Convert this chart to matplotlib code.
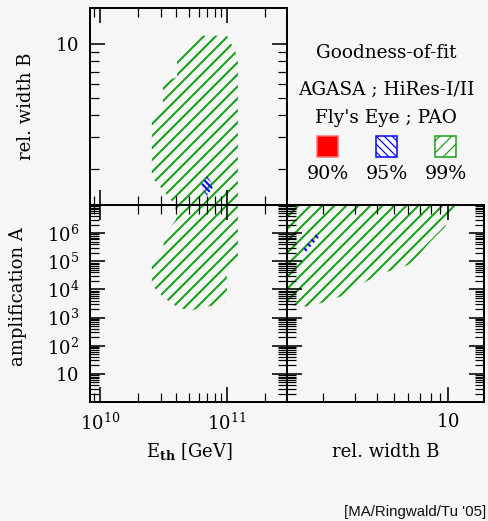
import matplotlib
matplotlib.use("Agg")
import matplotlib.pyplot as plt
from matplotlib.ticker import FixedLocator, FixedFormatter, NullFormatter, LogLocator
from matplotlib.patches import Rectangle

# ---------------- data ----------------
E_range = [8.34e9, 2.97e11]      # E_th [GeV]
B_range = [1.259, 15.85]         # relative width B
A_range = [1.0, 1.0e7]           # amplification A

E_major = [1e10, 1e11]
E_labels = ["$10^{10}$", "$10^{11}$"]
A_major = [1, 10, 1e2, 1e3, 1e4, 1e5, 1e6, 1e7]
A_labels = ["", "$10$", "$10^{2}$", "$10^{3}$", "$10^{4}$", "$10^{5}$", "$10^{6}$", ""]
B_major = [10]
B_labels = ["$10$"]

# 99% region, (E_th, B) projection
g99_EB_E = [3.89e10, 3.89e10, 3.13e10, 2.56e10, 2.56e10, 3.13e10, 3.13e10, 4.04e10,
            4.04e10, 4.93e10, 5.30e10, 6.24e10, 1.0e11, 1.22e11, 1.22e11]
g99_EB_B = [1.0, 1.26, 1.53, 1.80, 4.01, 4.45, 6.12, 6.53,
            8.13, 9.25, 10.1, 11.1, 11.1, 8.45, 1.0]
# 99% region, (E_th, A) projection
g99_EA_E = [3.89e10, 3.96e10, 3.19e10, 3.13e10, 2.56e10, 2.56e10, 2.71e10, 3.13e10,
            4.04e10, 5.1e10, 6.1e10, 7.6e10, 9.6e10, 1.0e11, 1.0e11, 1.06e11,
            1.22e11, 1.22e11]
g99_EA_A = [3e7, 3.0e6, 7.2e5, 1.7e5, 7.4e4, 1.7e4, 1.1e4, 5.4e3,
            2.4e3, 1.7e3, 2.2e3, 2.6e3, 3.5e3, 7.4e3, 3.2e4, 5.8e4,
            1.0e5, 3e7]
# 99% region, (B, A) projection
g99_BA_B = [1.0, 1.0, 1.26, 1.69, 2.65, 3.35, 4.32, 5.97, 6.70, 7.93, 9.62, 10.3, 11.2, 12.0]
g99_BA_A = [3e7, 2.8e3, 2.8e3, 2.4e3, 6.3e3, 1.7e4, 3.8e4, 7.4e4, 1.4e5, 4.9e5, 1.66e6,
            5.6e6, 1.0e7, 3e7]
# 95% region
b95_EB_E = [6.2e10, 6.95e10, 7.9e10, 6.95e10]
b95_EB_B = [1.61, 1.82, 1.61, 1.42]
b95_BA_B = [1.52, 1.83, 1.90, 1.58]
b95_BA_A = [2.3e5, 9.3e5, 7.5e5, 1.9e5]

legend_title = ["Goodness-of-fit", "AGASA ; HiRes-I/II", "Fly's Eye ; PAO"]
legend_levels = ["90%", "95%", "99%"]

GREEN = "#12a012"
BLUE = "#0000ff"
RED = "#ff0000"
BG = "#f6f6f6"

plt.rcParams.update({
    "font.family": ["DejaVu Serif"],
    "mathtext.fontset": "dejavuserif",
    "hatch.linewidth": 2.0,
    "figure.facecolor": BG,
    "axes.facecolor": BG,
    "savefig.facecolor": BG,
})

W, H = 488, 521
fig = plt.figure(figsize=(W / 72, H / 72), dpi=72)


def rect(x0, y0, x1, y1):
    return [x0 / W, 1 - y1 / H, (x1 - x0) / W, (y1 - y0) / H]


ax_tl = fig.add_axes(rect(90, 8, 287, 205))
ax_bl = fig.add_axes(rect(90, 205, 287, 402))
ax_br = fig.add_axes(rect(287, 205, 484, 402))


def style(ax):
    for s in ax.spines.values():
        s.set_linewidth(2)
    ax.tick_params(which="both", direction="in", top=True, right=True,
                   labelsize=18, pad=11)
    ax.tick_params(which="major", length=15, width=1.6)
    ax.tick_params(which="minor", length=9, width=1.2)


def set_log_axis(axis, major, labels):
    axis.set_major_locator(FixedLocator(major))
    axis.set_major_formatter(FixedFormatter(labels))
    axis.set_minor_locator(LogLocator(base=10, subs=range(2, 10), numticks=50))
    axis.set_minor_formatter(NullFormatter())


# top-left: E vs B
ax = ax_tl
ax.set_xscale("log"); ax.set_yscale("log")
ax.fill(g99_EB_E, g99_EB_B, facecolor="none", edgecolor=GREEN, hatch="//", linewidth=0)
ax.fill(b95_EB_E, b95_EB_B, facecolor="none", edgecolor=BLUE, hatch="\\\\\\\\", linewidth=0)
ax.set_xlim(E_range); ax.set_ylim(B_range)
set_log_axis(ax.xaxis, E_major, E_labels)
set_log_axis(ax.yaxis, B_major, B_labels)
style(ax)
ax.tick_params(labelbottom=False)
ax.text(-0.327, 0.5, "rel. width B", rotation=90, transform=ax.transAxes,
        ha="center", va="center", fontsize=18)

# bottom-left: E vs A
ax = ax_bl
ax.set_xscale("log"); ax.set_yscale("log")
ax.fill(g99_EA_E, g99_EA_A, facecolor="none", edgecolor=GREEN, hatch="//", linewidth=0)
ax.set_xlim(E_range); ax.set_ylim(A_range)
set_log_axis(ax.xaxis, E_major, E_labels)
set_log_axis(ax.yaxis, A_major, A_labels)
style(ax)
ax.text(-0.363, 0.533, "amplification A", rotation=90, transform=ax.transAxes,
        ha="center", va="center", fontsize=18)
ax.text(0.503, -0.279, r"E$_{\mathbf{th}}$ [GeV]", transform=ax.transAxes,
        ha="center", va="baseline", fontsize=18)

# bottom-right: B vs A
ax = ax_br
ax.set_xscale("log"); ax.set_yscale("log")
ax.fill(g99_BA_B, g99_BA_A, facecolor="none", edgecolor=GREEN, hatch="//", linewidth=0)
ax.fill(b95_BA_B, b95_BA_A, facecolor="none", edgecolor=BLUE, hatch="\\\\\\", linewidth=0)
ax.set_xlim(B_range); ax.set_ylim(A_range)
set_log_axis(ax.xaxis, B_major, B_labels)
set_log_axis(ax.yaxis, A_major, A_labels)
style(ax)
ax.tick_params(labelleft=False)
ax.text(0.503, -0.279, "rel. width B", transform=ax.transAxes,
        ha="center", va="baseline", fontsize=18)

# legend block
fx = lambda x: x / W
fy = lambda y: 1 - y / H
for txt, yb in zip(legend_title, [58, 95, 123]):
    fig.text(fx(386), fy(yb), txt, ha="center", va="baseline", fontsize=18.5)

sq_x = [327.5, 386.5, 445.5]
styles = [dict(facecolor=RED, edgecolor="#ff7070", hatch=None),
          dict(facecolor="white", edgecolor=BLUE, hatch="\\\\\\"),
          dict(facecolor="white", edgecolor=GREEN, hatch="//")]
with plt.rc_context({"hatch.linewidth": 1.2}):
    for cx, st, lab in zip(sq_x, styles, legend_levels):
        r = Rectangle((fx(cx - 10.5), fy(156.5)), 21 / W, 21 / H,
                      transform=fig.transFigure, linewidth=1.5, **st)
        fig.add_artist(r)
        fig.text(fx(cx), fy(179), lab, ha="center", va="baseline", fontsize=19)

fig.text(fx(486), fy(516), "[MA/Ringwald/Tu '05]", ha="right", va="baseline",
         family="Liberation Sans", fontsize=15, color="#111111")

fig.savefig("out.png", dpi=72)
